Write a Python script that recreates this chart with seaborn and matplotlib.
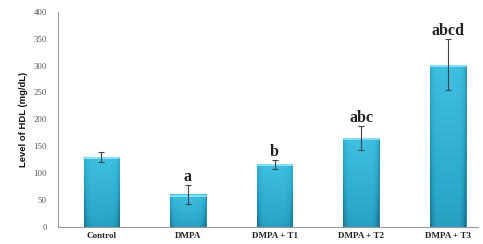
import matplotlib
matplotlib.use("Agg")
import matplotlib.pyplot as plt
import numpy as np
import pandas as pd
import seaborn as sns

groups = ["Control", "DMPA", "DMPA + T1", "DMPA + T2", "DMPA + T3"]
hdl_mean = [130, 60, 116, 165, 302]
hdl_err = [10, 18, 8, 22, 48]
letters = ["", "a", "b", "abc", "abcd"]

df = pd.DataFrame({"group": groups, "hdl": hdl_mean})

sns.set_style("white")
plt.rcParams["font.family"] = ["Liberation Serif", "DejaVu Serif"]

fig = plt.figure(figsize=(4.83, 2.44), dpi=100)
ax = fig.add_axes([0.12, 0.071, 0.87, 0.88])

sns.barplot(data=df, x="group", y="hdl", color="#2fb0d4", width=0.41,
            edgecolor="#1c7f9c", linewidth=0.6, ax=ax)

# vertical gradient inside each bar, darker at the sides
yy = np.linspace(0, 1, 128).reshape(-1, 1)
xx = np.linspace(-1, 1, 64).reshape(1, -1)
shade = 0.55 + 0.45 * yy - 0.35 * xx ** 6
cmap = matplotlib.colors.LinearSegmentedColormap.from_list(
    "bar", ["#15708c", "#2aa6c9", "#3ec0e2"])
for p in ax.patches:
    x0, y0 = p.get_x(), p.get_y()
    w, h = p.get_width(), p.get_height()
    im = ax.imshow(shade, extent=[x0, x0 + w, y0, y0 + h], origin="lower",
                   cmap=cmap, vmin=0.2, vmax=1.0, aspect="auto",
                   zorder=p.get_zorder())
    im.set_clip_path(p)
    # light cap on top
    ax.plot([x0, x0 + w], [y0 + h - 2, y0 + h - 2], color="#8ae0f4",
            lw=1.4, zorder=p.get_zorder() + 0.5)

ax.errorbar(range(len(groups)), hdl_mean, yerr=hdl_err, fmt="none",
            ecolor="#444444", elinewidth=0.8, capsize=2.5, capthick=0.8, zorder=5)

for i, (m, e, t) in enumerate(zip(hdl_mean, hdl_err, letters)):
    if t:
        ax.text(i, m + e, t, ha="center", va="bottom", fontsize=11.5,
                fontweight="bold", color="#222222")

ax.set_xlim(-0.5, 4.35)
ax.set_ylim(0, 400)
ax.set_yticks(range(0, 401, 50))
ax.set_xlabel("")
ax.set_ylabel("Level of HDL (mg/dL)", fontsize=6.8, fontweight="bold",
              color="#111111", family=["Liberation Sans", "DejaVu Sans"],
              labelpad=4)
ax.tick_params(axis="y", labelsize=6.3, colors="#555555", length=0, pad=8)
ax.tick_params(axis="x", labelsize=6.5, length=0, pad=4)
for lab in ax.get_xticklabels():
    lab.set_fontweight("bold")
    lab.set_color("#222222")

sns.despine(ax=ax)
for s in ["left", "bottom"]:
    ax.spines[s].set_color("#999999")
    ax.spines[s].set_linewidth(0.8)

fig.savefig("out.png", dpi=100)
